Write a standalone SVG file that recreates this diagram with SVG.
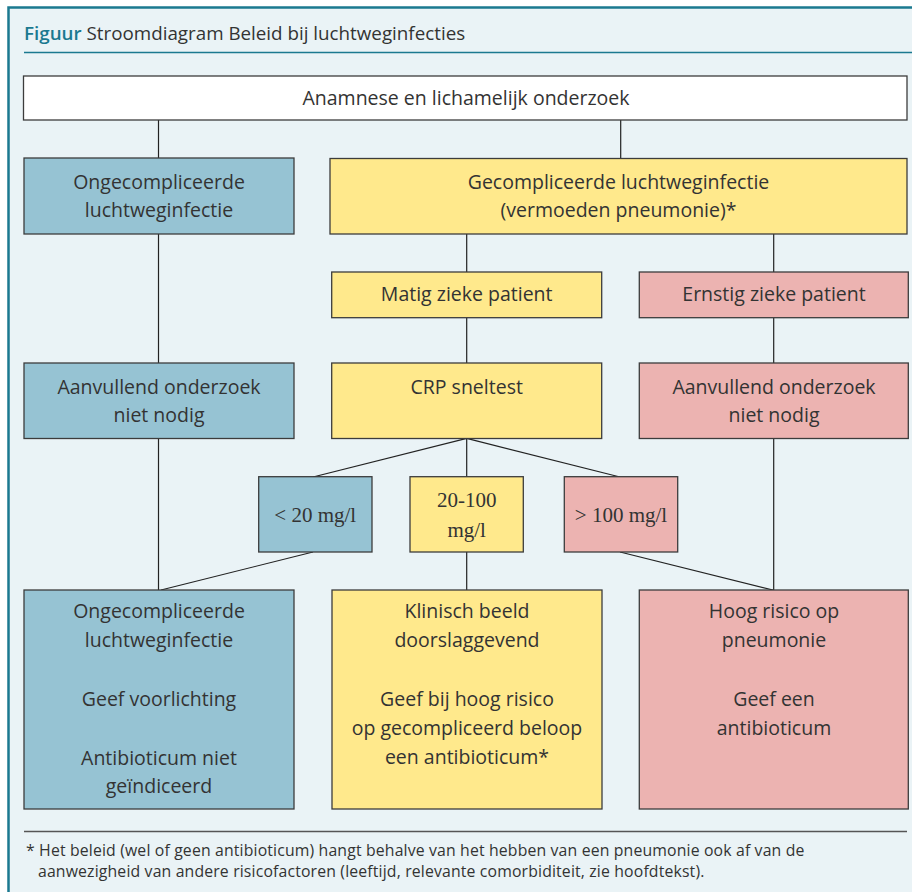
<svg xmlns="http://www.w3.org/2000/svg" width="912" height="892" viewBox="0 0 912 892">
<style>
.box{stroke:#3c3c3c;stroke-width:1.3}
.blue{fill:#96c3d3}
.yel{fill:#ffe98c}
.pink{fill:#ecb3b1}
.wht{fill:#ffffff}
.t{font-family:"Open Sans",Lato,sans-serif;font-size:19.5px;fill:#333;text-anchor:middle}
.s{font-family:"Liberation Serif","DejaVu Serif",serif;font-size:21px;fill:#333;text-anchor:middle}
.c line{stroke:#222;stroke-width:1.2}
.fn{font-family:"Open Sans",Lato,sans-serif;font-size:15.8px;letter-spacing:0.15px;fill:#333}
</style>
<rect x="0" y="0" width="912" height="892" fill="#ffffff"/>
<rect x="8.5" y="7.5" width="920" height="900" fill="#eaf3f6" stroke="#1b7990" stroke-width="2.5"/>
<text x="24" y="40" style="font-family:'Open Sans',Lato,sans-serif;font-size:18.8px;fill:#333"><tspan style="fill:#1b7990;font-weight:600">Figuur</tspan> Stroomdiagram Beleid bij luchtweginfecties</text>
<line x1="24" y1="52.5" x2="912" y2="52.5" stroke="#1b7990" stroke-width="1.3"/>
<g class="c" id="connectors">
<line x1="158.5" y1="120" x2="158.5" y2="158"/>
<line x1="620.7" y1="120" x2="620.7" y2="158"/>
<line x1="158.5" y1="234" x2="158.5" y2="363"/>
<line x1="158.5" y1="438" x2="158.5" y2="590"/>
<line x1="466.7" y1="234" x2="466.7" y2="272"/>
<line x1="466.7" y1="318" x2="466.7" y2="363"/>
<line x1="466.7" y1="438" x2="466.7" y2="477"/>
<line x1="466.7" y1="552" x2="466.7" y2="590"/>
<line x1="773.7" y1="234" x2="773.7" y2="272"/>
<line x1="773.7" y1="318" x2="773.7" y2="363"/>
<line x1="773.7" y1="438" x2="773.7" y2="590"/>
<line x1="466.7" y1="438.4" x2="313" y2="477"/>
<line x1="466.7" y1="438.4" x2="620" y2="477"/>
<line x1="313" y1="552" x2="161" y2="590"/>
<line x1="620" y1="552" x2="773" y2="590"/>
</g>
<g id="n-anamnese"><rect class="box wht" x="23.5" y="76" width="883.5" height="44"/><text class="t" x="466" y="105">Anamnese en lichamelijk onderzoek</text></g>
<g id="n-ongecompliceerd"><rect class="box blue" x="24" y="158" width="270" height="76"/><text class="t" x="159" y="189">Ongecompliceerde</text><text class="t" x="159" y="217">luchtweginfectie</text></g>
<g id="n-gecompliceerd"><rect class="box yel" x="330" y="158.5" width="577" height="75.5"/><text class="t" x="618.5" y="189">Gecompliceerde luchtweginfectie</text><text class="t" x="618.5" y="217">(vermoeden pneumonie)*</text></g>
<g id="n-matig"><rect class="box yel" x="331.7" y="272" width="270" height="45.7"/><text class="t" x="466.7" y="301">Matig zieke patient</text></g>
<g id="n-ernstig"><rect class="box pink" x="639.3" y="272" width="269" height="45.7"/><text class="t" x="774" y="301">Ernstig zieke patient</text></g>
<g id="n-aanvullend-l"><rect class="box blue" x="24" y="363" width="270" height="75.5"/><text class="t" x="159" y="394">Aanvullend onderzoek</text><text class="t" x="159" y="422">niet nodig</text></g>
<g id="n-crp"><rect class="box yel" x="331.7" y="363" width="270" height="75.5"/><text class="t" x="466.7" y="394">CRP sneltest</text></g>
<g id="n-aanvullend-r"><rect class="box pink" x="639.3" y="363" width="269" height="75.5"/><text class="t" x="774" y="394">Aanvullend onderzoek</text><text class="t" x="774" y="422">niet nodig</text></g>
<g id="n-lt20"><rect class="box blue" x="258.7" y="476.7" width="113.3" height="75.3"/><text class="s" x="315.3" y="522">&lt; 20 mg/l</text></g>
<g id="n-20-100"><rect class="box yel" x="410" y="476.7" width="113.3" height="75.3"/><text class="s" x="466.7" y="507">20-100</text><text class="s" x="466.7" y="537">mg/l</text></g>
<g id="n-gt100"><rect class="box pink" x="564.3" y="476.7" width="113.4" height="75.3"/><text class="s" x="621" y="522">&gt; 100 mg/l</text></g>
<g id="n-uitkomst-l"><rect class="box blue" x="24" y="590" width="270" height="219"/><text class="t" x="159" y="618">Ongecompliceerde</text><text class="t" x="159" y="647">luchtweginfectie</text><text class="t" x="159" y="706">Geef voorlichting</text><text class="t" x="159" y="765">Antibioticum niet</text><text class="t" x="159" y="793">geïndiceerd</text></g>
<g id="n-uitkomst-m"><rect class="box yel" x="332" y="590" width="270" height="219"/><text class="t" x="467" y="618">Klinisch beeld</text><text class="t" x="467" y="647">doorslaggevend</text><text class="t" x="467" y="706">Geef bij hoog risico</text><text class="t" x="467" y="735">op gecompliceerd beloop</text><text class="t" x="467" y="764">een antibioticum*</text></g>
<g id="n-uitkomst-r"><rect class="box pink" x="639.3" y="590" width="269" height="219"/><text class="t" x="774" y="618">Hoog risico op</text><text class="t" x="774" y="647">pneumonie</text><text class="t" x="774" y="706">Geef een</text><text class="t" x="774" y="735">antibioticum</text></g>
<line x1="24" y1="831.5" x2="907" y2="831.5" stroke="#555" stroke-width="1.3"/>
<text class="fn" x="26" y="856">* Het beleid (wel of geen antibioticum) hangt behalve van het hebben van een pneumonie ook af van de</text>
<text class="fn" x="38" y="877">aanwezigheid van andere risicofactoren (leeftijd, relevante comorbiditeit, zie hoofdtekst).</text>
</svg>
